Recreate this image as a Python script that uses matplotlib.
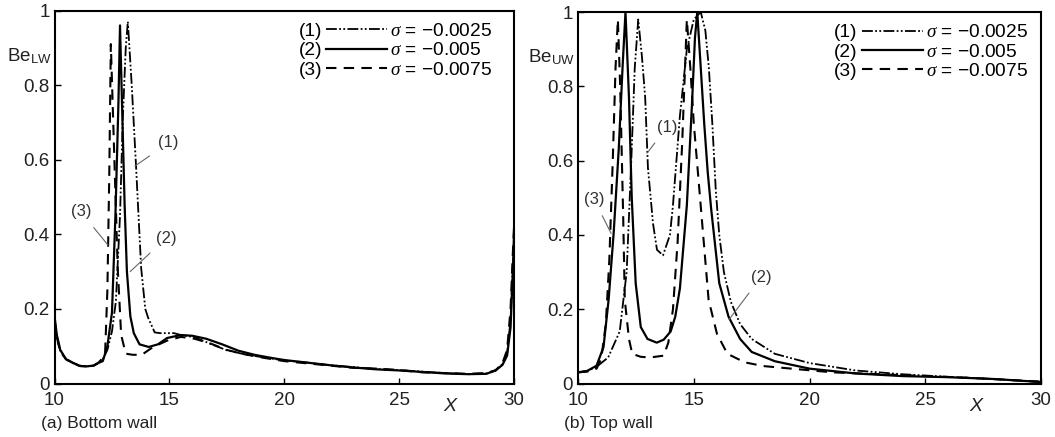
import matplotlib
matplotlib.use('Agg')
import matplotlib.pyplot as plt
from matplotlib.lines import Line2D

plt.rcParams['font.family'] = ['Liberation Sans', 'DejaVu Sans']
plt.rcParams['mathtext.fontset'] = 'custom'
plt.rcParams['mathtext.rm'] = 'Liberation Sans'
plt.rcParams['mathtext.it'] = 'Liberation Serif:italic'

# (a) bottom wall
xa1 = [10, 10.1, 10.25, 10.5, 10.8, 11.1, 11.4, 11.7, 11.9, 12.1, 12.3, 12.5, 12.67, 12.85, 12.97,
       13.1, 13.19, 13.28, 13.36, 13.55, 13.77, 13.95, 14.07, 14.36, 14.6, 15.2, 15.5, 16.1, 16.8,
       17.5, 18.3, 19.2, 20, 21, 22, 23, 24, 25, 26, 27, 28, 28.8, 29.2, 29.5, 29.7, 29.85, 29.95, 30]
ya1 = [0.17, 0.12, 0.088, 0.066, 0.056, 0.048, 0.046, 0.048, 0.055, 0.065, 0.09, 0.14, 0.22, 0.45, 0.71,
       0.9, 0.97, 0.88, 0.8, 0.58, 0.31, 0.2, 0.177, 0.137, 0.135, 0.135, 0.13, 0.124, 0.106,
       0.089, 0.078, 0.069, 0.062, 0.056, 0.049, 0.044, 0.039, 0.036, 0.032, 0.028, 0.025, 0.027, 0.036,
       0.052, 0.08, 0.17, 0.32, 0.38]
xa2 = [10, 10.1, 10.25, 10.5, 10.8, 11.1, 11.4, 11.7, 11.9, 12.1, 12.3, 12.5, 12.65, 12.78, 12.85,
       12.95, 13.05, 13.15, 13.3, 13.45, 13.7, 14.1, 14.5, 14.9, 15.5, 16.0, 16.6, 17.3, 18.0, 18.7,
       19.5, 20, 21, 22, 23, 24, 25, 26, 27, 28, 28.8, 29.2, 29.5, 29.7, 29.85, 29.95, 30]
ya2 = [0.18, 0.13, 0.09, 0.065, 0.055, 0.047, 0.046, 0.048, 0.055, 0.06, 0.1, 0.19, 0.45, 0.75, 0.96,
       0.72, 0.48, 0.3, 0.18, 0.135, 0.105, 0.098, 0.105, 0.122, 0.13, 0.128, 0.12, 0.105, 0.088, 0.077,
       0.068, 0.063, 0.056, 0.049, 0.043, 0.038, 0.035, 0.031, 0.027, 0.025, 0.026, 0.035, 0.05, 0.075,
       0.15, 0.3, 0.4]
xa3 = [10, 10.1, 10.25, 10.5, 10.8, 11.1, 11.4, 11.7, 11.9, 12.05, 12.2, 12.3, 12.38, 12.45, 12.57,
       12.75, 12.9, 13.1, 13.4, 13.8, 14.1, 14.3, 14.9, 15.5, 16.1, 16.8, 17.5, 18.3, 19.2, 20, 21, 22,
       23, 24, 25, 26, 27, 28, 28.8, 29.2, 29.5, 29.7, 29.85, 29.95, 30]
ya3 = [0.17, 0.125, 0.085, 0.065, 0.055, 0.047, 0.046, 0.048, 0.055, 0.065, 0.08, 0.25, 0.55, 0.91, 0.67,
       0.31, 0.13, 0.08, 0.077, 0.077, 0.09, 0.098, 0.115, 0.125, 0.12, 0.107, 0.09, 0.078, 0.068, 0.06,
       0.054, 0.048, 0.042, 0.04, 0.036, 0.03, 0.028, 0.026, 0.028, 0.035, 0.055, 0.09, 0.2, 0.35, 0.42]

# (b) top wall
xb1 = [10, 10.4, 10.8, 11.3, 11.8, 12.1, 12.3, 12.45, 12.6, 12.76, 12.9, 13.02, 13.24, 13.41, 13.67,
       13.97, 14.1, 14.4, 14.7, 15.0, 15.3, 15.5, 15.65, 15.8, 15.95, 16.1, 16.3, 16.6, 17.0, 17.5,
       18.5, 20, 22, 24, 26, 28, 30]
yb1 = [0.03, 0.034, 0.045, 0.07, 0.14, 0.3, 0.6, 0.85, 0.98, 0.88, 0.77, 0.58, 0.43, 0.36, 0.345,
       0.4, 0.48, 0.72, 0.9, 0.98, 1.0, 0.95, 0.85, 0.7, 0.52, 0.4, 0.3, 0.22, 0.16, 0.12,
       0.08, 0.055, 0.035, 0.025, 0.018, 0.012, 0.004]
xb2 = [10, 10.4, 10.8, 11.1, 11.32, 11.54, 11.76, 11.93, 12.05, 12.2, 12.32, 12.49, 12.71, 13.0, 13.4,
       13.7, 14.0, 14.2, 14.4, 14.7, 14.92, 15.05, 15.15, 15.3, 15.45, 15.6, 15.75, 16.1, 16.5, 17.0,
       17.5, 18.5, 20, 22, 24, 26, 28, 30]
yb2 = [0.03, 0.034, 0.048, 0.098, 0.225, 0.406, 0.633, 0.86, 1.0, 0.77, 0.5, 0.27, 0.152, 0.12, 0.11,
       0.118, 0.14, 0.18, 0.256, 0.48, 0.75, 0.93, 1.0, 0.85, 0.7, 0.57, 0.47, 0.27, 0.18, 0.12,
       0.085, 0.06, 0.04, 0.027, 0.02, 0.017, 0.012, 0.004]
xb3 = [10, 10.4, 10.8, 11.0, 11.2, 11.35, 11.5, 11.62, 11.72, 11.82, 11.95, 12.02, 12.2, 12.34, 12.7,
       13.1, 13.7, 13.9, 14.1, 14.3, 14.5, 14.7, 14.85, 15.0, 15.27, 15.64, 16.0, 16.45, 17.2, 18.0,
       19.4, 21, 23, 25, 27, 30]
yb3 = [0.03, 0.032, 0.04, 0.066, 0.16, 0.33, 0.6, 0.85, 0.98, 0.8, 0.45, 0.225, 0.12, 0.08, 0.072,
       0.07, 0.075, 0.11, 0.2, 0.38, 0.65, 0.98, 0.85, 0.7, 0.5, 0.225, 0.134, 0.08, 0.057, 0.047,
       0.039, 0.03, 0.025, 0.02, 0.015, 0.005]

sigmas = ['\u22120.0025', '\u22120.005', '\u22120.0075']
curve_ids = ['(1)', '(2)', '(3)']
xticks = [10, 15, 20, 25, 30]
yticks = [0, 0.2, 0.4, 0.6, 0.8, 1.0]
yticklabels = ['0', '0.2', '0.4', '0.6', '0.8', '1']

# leader labels: (text, text pos, point pos)
notes_a = [('(1)', (14.95, 0.645), (13.5, 0.583)),
           ('(3)', (11.15, 0.46), (12.33, 0.371)),
           ('(2)', (14.86, 0.39), (13.29, 0.30))]
notes_b = [('(1)', (13.84, 0.69), (12.98, 0.62)),
           ('(3)', (10.69, 0.496), (11.43, 0.404)),
           ('(2)', (17.9, 0.286), (16.52, 0.172))]

ls1 = (0, (6, 1.3, 1, 1.3, 1, 1.3))
ls3 = (0, (5, 3.5))
styles = [dict(ls=ls1, lw=1.3), dict(ls='-', lw=1.6), dict(ls=ls3, lw=1.5)]

fig = plt.figure(figsize=(10.55, 4.37), dpi=100)
ax1 = fig.add_axes([0.0517, 0.1224, 0.4355, 0.8535])
ax2 = fig.add_axes([0.5479, 0.1224, 0.4389, 0.8501])

panels = [(ax1, [(xa1, ya1), (xa2, ya2), (xa3, ya3)], notes_a, 'Be$_{\\mathrm{LW}}$',
           '(a) Bottom wall', 0.724),
          (ax2, [(xb1, yb1), (xb2, yb2), (xb3, yb3)], notes_b, 'Be$_{\\mathrm{UW}}$',
           '(b) Top wall', 0.745)]

leg_kw = dict(frameon=False, fontsize=13.8, labelspacing=0.1, borderaxespad=0, borderpad=0)

for ax, curves, notes, ylab, cap, legx in panels:
    for (x, y), st in zip(curves, styles):
        ax.plot(x, y, color='black', **st)
    for txt, tpos, ppos in notes:
        ax.annotate(txt, xy=ppos, xytext=tpos, fontsize=12, color='#333333',
                    ha='center', va='center',
                    arrowprops=dict(arrowstyle='-', color='#666666', lw=0.8, shrinkA=5, shrinkB=0))
    ax.set_xlim(10, 30)
    ax.set_ylim(0, 1)
    ax.set_xticks(xticks)
    ax.set_yticks(yticks)
    ax.set_yticklabels(yticklabels)
    ax.tick_params(direction='in', length=4, width=1, labelsize=13.5, labelcolor='#222222')
    ax.tick_params(axis='x', pad=6)
    ax.tick_params(axis='y', pad=3.5)
    for s in ax.spines.values():
        s.set_linewidth(1.5)
    ax.text(0.86, -0.04, 'X', transform=ax.transAxes, style='italic', fontsize=14,
            ha='center', va='top', color='#222222')
    ax.text(-0.006, 0.865, ylab, transform=ax.transAxes, fontsize=13.5, ha='right',
            va='baseline', color='#222222')
    pos = ax.get_position()
    fig.text(pos.x0 - 0.013, 0.032, cap, fontsize=12.5, ha='left', va='center', color='#222222')

    # legend rows: "(n) ----- sigma = value"
    lines = [Line2D([], [], color='black', **st) for st in styles]
    leg_a = ax.legend(lines, curve_ids, markerfirst=False, loc='upper right',
                      bbox_to_anchor=(legx, 0.968), handlelength=3.2, handletextpad=0.2, **leg_kw)
    ax.add_artist(leg_a)
    blanks = [Line2D([], [], ls='none') for _ in sigmas]
    ax.legend(blanks, ['$\\sigma$ = ' + s for s in sigmas], loc='upper left',
              bbox_to_anchor=(legx + 0.007, 0.968), handlelength=0, handletextpad=0, **leg_kw)

fig.savefig('out.png', dpi=100)
